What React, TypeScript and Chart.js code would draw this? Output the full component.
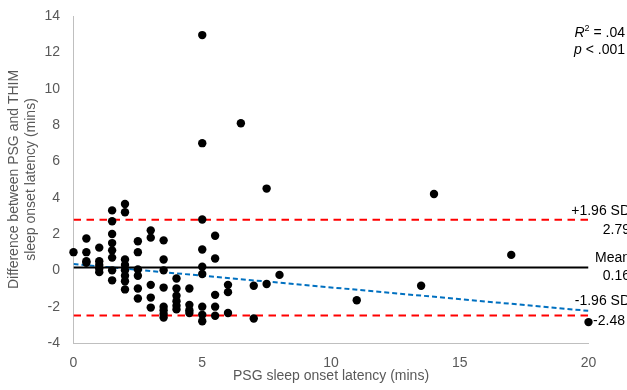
import React, { useEffect, useRef } from "react";
import { Chart, registerables } from "chart.js";

Chart.register(...registerables);

// PSG sleep onset latency (x, mins)
const psgLatency = [
  0,
  0.5, 0.5, 0.5, 0.5,
  1, 1, 1, 1, 1,
  1.5, 1.5, 1.5, 1.5, 1.5, 1.5, 1.5, 1.5,
  2, 2, 2, 2, 2, 2, 2, 2,
  2.5, 2.5, 2.5, 2.5, 2.5, 2.5,
  3, 3, 3, 3, 3,
  3.5, 3.5, 3.5, 3.5, 3.5, 3.5, 3.5, 3.5,
  4, 4, 4, 4, 4, 4,
  4.5, 4.5, 4.5, 4.5,
  5, 5, 5, 5, 5, 5, 5, 5, 5,
  5.5, 5.5, 5.5, 5.5, 5.5,
  6, 6, 6,
  6.5,
  7, 7,
  7.5, 7.5,
  8,
  11,
  13.5,
  14,
  17,
  20,
];

// Difference between PSG and THIM (y, mins)
const difference = [
  1.0,
  1.75, 1.0, 0.5, 0.42,
  1.25, 0.5, 0.3, 0.1, -0.1,
  3.3, 2.7, 2.0, 1.5, 1.1, 0.7, 0.0, -0.55,
  3.65, 3.2, 0.6, 0.3, 0.0, -0.3, -0.6, -1.05,
  1.6, 1.0, 0.05, -0.3, -1.0, -1.55,
  2.2, 1.8, -0.8, -1.5, -2.05,
  1.65, 0.6, 0.0, -0.95, -2.0, -2.2, -2.4, -2.6,
  -0.45, -1.0, -1.4, -1.7, -1.95, -2.15,
  -1.0, -1.9, -2.2, -2.35,
  12.95, 7.0, 2.8, 1.15, 0.2, -0.2, -2.0, -2.45, -2.8,
  1.9, 0.65, -1.35, -2.0, -2.5,
  -0.8, -1.2, -2.35,
  8.1,
  -0.85, -2.65,
  4.5, -0.75,
  -0.25,
  -1.65,
  -0.85,
  4.2,
  0.85,
  -2.85,
];

const meanDiff = 0.16;
const upperLimit = 2.79;
const lowerLimit = -2.48;
const limitRangeX = [0, 20];
const regressionX = [0, 20];
const regressionY = [0.35, -2.23];

const xTickValues = [0, 5, 10, 15, 20];
const yTickValues = [-4, -2, 0, 2, 4, 6, 8, 10, 12, 14];

const statsR2 = ".04";
const statsP = ".001";

const FONT = "'Liberation Sans', Arial, sans-serif";

const annotationPlugin = {
  id: "baAnnotations",
  afterDraw(chart: any) {
    const { ctx, chartArea, scales } = chart;
    const y = scales.y;
    ctx.save();
    ctx.fillStyle = "#000000";
    ctx.textBaseline = "middle";
    ctx.textAlign = "right";
    ctx.font = `14px ${FONT}`;
    const rx = chartArea.right + 41.5;
    const yu = y.getPixelForValue(upperLimit);
    const ym = y.getPixelForValue(meanDiff);
    const yl = y.getPixelForValue(lowerLimit);
    ctx.fillText("+1.96 SD", rx, yu - 8.5);
    ctx.fillText(upperLimit.toFixed(2), rx, yu + 10);
    ctx.fillText("Mean", rx, ym - 9);
    ctx.fillText(meanDiff.toFixed(2), rx, ym + 8.5);
    ctx.fillText("-1.96 SD", rx, yl - 14);
    ctx.fillText(lowerLimit.toFixed(2), rx - 5, yl + 5.7);

    // R² and p annotations
    const ax = chartArea.right + 36.5;
    ctx.textAlign = "left";
    const italic = `italic 14px ${FONT}`;
    const normal = `14px ${FONT}`;
    const sup = `9px ${FONT}`;
    const r2y = chartArea.top + 17;
    ctx.font = italic;
    const wR = ctx.measureText("R").width;
    ctx.font = sup;
    const w2 = ctx.measureText("2").width;
    ctx.font = normal;
    const rest1 = " = " + statsR2;
    const wRest1 = ctx.measureText(rest1).width;
    let sx = ax - (wR + w2 + wRest1);
    ctx.font = italic;
    ctx.fillText("R", sx, r2y);
    ctx.font = sup;
    ctx.fillText("2", sx + wR, r2y - 4);
    ctx.font = normal;
    ctx.fillText(rest1, sx + wR + w2, r2y);

    const py = chartArea.top + 34;
    ctx.font = italic;
    const wp = ctx.measureText("p").width;
    ctx.font = normal;
    const rest2 = " < " + statsP;
    const wRest2 = ctx.measureText(rest2).width;
    sx = ax - (wp + wRest2);
    ctx.font = italic;
    ctx.fillText("p", sx, py);
    ctx.font = normal;
    ctx.fillText(rest2, sx + wp, py);
    ctx.restore();
  },
};

export default function App() {
  const canvasRef = useRef<HTMLCanvasElement | null>(null);

  useEffect(() => {
    if (!canvasRef.current) return;
    const points = psgLatency.map((x, i) => ({ x, y: difference[i] }));
    const hLine = (v: number) => limitRangeX.map((x) => ({ x, y: v }));
    const regression = regressionX.map((x, i) => ({ x, y: regressionY[i] }));

    const chart = new Chart(canvasRef.current, {
      type: "scatter",
      data: {
        datasets: [
          {
            label: "Data",
            data: points,
            backgroundColor: "#000000",
            borderColor: "#000000",
            pointRadius: 4.2,
            pointBorderWidth: 0,
            showLine: false,
            clip: false,
          },
          {
            label: "+1.96 SD",
            data: hLine(upperLimit),
            showLine: true,
            borderColor: "#ff0000",
            borderWidth: 2,
            borderDash: [7.5, 5.5],
            pointRadius: 0,
          },
          {
            label: "Mean",
            data: hLine(meanDiff),
            showLine: true,
            borderColor: "#000000",
            borderWidth: 2,
            pointRadius: 0,
          },
          {
            label: "-1.96 SD",
            data: hLine(lowerLimit),
            showLine: true,
            borderColor: "#ff0000",
            borderWidth: 2,
            borderDash: [7.5, 5.5],
            pointRadius: 0,
          },
          {
            label: "Trend",
            data: regression,
            showLine: true,
            borderColor: "#0070c0",
            borderWidth: 2,
            borderDash: [5, 3],
            pointRadius: 0,
          },
        ],
      },
      options: {
        animation: false,
        responsive: false,
        devicePixelRatio: 1,
        layout: { padding: { left: 0, right: 38.5, top: 16, bottom: 0 } },
        plugins: {
          legend: { display: false },
          tooltip: { enabled: false },
        },
        scales: {
          x: {
            type: "linear",
            min: xTickValues[0],
            max: xTickValues[xTickValues.length - 1],
            afterBuildTicks: (scale: any) => {
              scale.ticks = xTickValues.map((v) => ({ value: v }));
            },
            afterFit: (scale: any) => {
              scale.height = 47;
              scale.paddingLeft = 0;
              scale.paddingRight = 0;
            },
            grid: { display: false, drawTicks: false },
            border: { display: true, color: "#bfbfbf", width: 1 },
            ticks: {
              color: "#595959",
              font: { family: FONT, size: 14 },
              padding: 12,
              maxRotation: 0,
            },
            title: {
              display: true,
              text: "PSG sleep onset latency (mins)",
              color: "#595959",
              font: { family: FONT, size: 14, lineHeight: 1.2 },
              padding: { top: 0, bottom: 5 },
            },
          },
          y: {
            type: "linear",
            min: yTickValues[0],
            max: yTickValues[yTickValues.length - 1],
            afterBuildTicks: (scale: any) => {
              scale.ticks = yTickValues.map((v) => ({ value: v }));
            },
            afterFit: (scale: any) => {
              scale.width = 73.5;
              scale.paddingTop = 0;
              scale.paddingBottom = 0;
            },
            grid: { display: false, drawTicks: false },
            border: { display: true, color: "#bfbfbf", width: 1 },
            ticks: {
              color: "#595959",
              font: { family: FONT, size: 14 },
              padding: 13.5,
            },
            title: {
              display: true,
              text: ["Difference between PSG and THIM", "sleep onset latency (mins)"],
              color: "#595959",
              font: { family: FONT, size: 14, lineHeight: 1.2 },
              padding: { top: 6, bottom: 0 },
            },
          },
        },
      },
      plugins: [annotationPlugin],
    } as any);

    return () => chart.destroy();
  }, []);

  return (
    <div style={{ position: "fixed", left: 0, top: 0, width: 627, height: 390, background: "#ffffff" }}>
      <canvas ref={canvasRef} width={627} height={390} style={{ display: "block", width: 627, height: 390 }} />
    </div>
  );
}
